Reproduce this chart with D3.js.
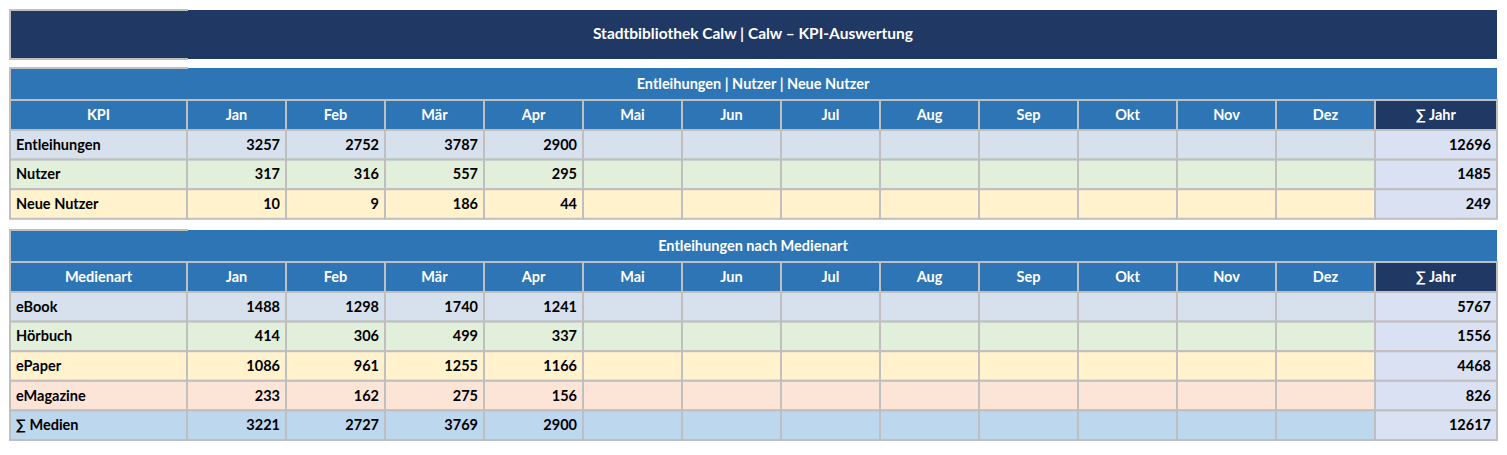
<!DOCTYPE html>
<html><head><meta charset="utf-8">
<script src="https://cdn.jsdelivr.net/npm/d3@7"></script>
<style>body{margin:0;background:#fff}svg{display:block}text{font-family:Lato,"Open Sans",sans-serif;font-weight:bold}</style>
</head><body><svg id="c" width="1507" height="455"></svg>
<script>
const title = "Stadtbibliothek Calw  |  Calw – KPI-Auswertung";
const months = ["Jan","Feb","Mär","Apr","Mai","Jun","Jul","Aug","Sep","Okt","Nov","Dez"];
const section1 = "Entleihungen | Nutzer | Neue Nutzer";
const kpiNames = ["Entleihungen","Nutzer","Neue Nutzer"];
const entleihungen = [3257,2752,3787,2900];
const nutzer = [317,316,557,295];
const neueNutzer = [10,9,186,44];
const kpiTotals = [12696,1485,249];
const section2 = "Entleihungen nach Medienart";
const medienNames = ["eBook","Hörbuch","ePaper","eMagazine","∑ Medien"];
const ebook = [1488,1298,1740,1241];
const hoerbuch = [414,306,499,337];
const epaper = [1086,961,1255,1166];
const emagazine = [233,162,275,156];
const summeMedien = [3221,2727,3769,2900];
const medienTotals = [5767,1556,4468,826,12617];

const svg = d3.select("#c");
const navy="#203864", blue="#2E75B6", grid="#BFBFBF";
const x = d3.scaleOrdinal().domain(["label",...months,"sum"]);
const edges=[10,187]; for(let i=1;i<=12;i++) edges.push(187+i*99.0); edges.push(1497);
const colX = k => edges[k], colW = k => edges[k+1]-edges[k];

svg.append("rect").attr("x",10).attr("y",10).attr("width",1487).attr("height",49).attr("fill",navy);
svg.append("path").attr("d","M188,10H10V59H188").attr("fill","none").attr("stroke",grid).attr("stroke-width",2);
svg.append("text").attr("x",753).attr("y",39).attr("text-anchor","middle").attr("fill","#fff").attr("font-size",15.5).text(title);

function table(top, section, firstHead, names, rows, totals, colors){
  const rowH = [32,30]; 
  svg.append("rect").attr("x",10).attr("y",top).attr("width",1487).attr("height",32).attr("fill",blue);
  svg.append("path").attr("d",`M188,${top}H10V${top+32}`).attr("fill","none").attr("stroke",grid).attr("stroke-width",2);
  svg.append("text").attr("x",753).attr("y",top+21).attr("text-anchor","middle").attr("fill","#fff").attr("font-size",14.5).text(section);
  const hy=top+32, hh=30;
  const heads=[firstHead,...months,"∑ Jahr"];
  heads.forEach((h,k)=>{
    svg.append("rect").attr("x",colX(k)).attr("y",hy).attr("width",colW(k)).attr("height",hh)
      .attr("fill",k===13?navy:blue).attr("stroke",grid).attr("stroke-width",2);
    svg.append("text").attr("x",colX(k)+colW(k)/2).attr("y",hy+20).attr("text-anchor","middle").attr("fill","#fff").attr("font-size",14.5).text(h);
  });
  const y = d3.scaleBand().domain(names).range([hy+hh, hy+hh+names.length*29.6]);
  names.forEach((n,r)=>{
    const yy=y(n), h=y.bandwidth();
    for(let k=0;k<14;k++){
      svg.append("rect").attr("x",colX(k)).attr("y",yy).attr("width",colW(k)).attr("height",h)
        .attr("fill",k===13?"#D9E1F2":colors[r]).attr("stroke",grid).attr("stroke-width",2);
    }
    svg.append("text").attr("x",colX(0)+6).attr("y",yy+h/2+5).attr("fill","#000").attr("font-size",14.5).text(n);
    rows[r].forEach((v,i)=>{
      svg.append("text").attr("x",colX(i+1)+colW(i+1)-6).attr("y",yy+h/2+5).attr("text-anchor","end").attr("font-size",14.5).text(v);
    });
    svg.append("text").attr("x",colX(13)+colW(13)-6).attr("y",yy+h/2+5).attr("text-anchor","end").attr("font-size",14.5).text(totals[r]);
  });
}
table(68, section1, "KPI", kpiNames, [entleihungen,nutzer,neueNutzer], kpiTotals, ["#D6E1ED","#E2EFDA","#FFF2CC"]);
table(230, section2, "Medienart", medienNames, [ebook,hoerbuch,epaper,emagazine,summeMedien], medienTotals, ["#D6E1ED","#E2EFDA","#FFF2CC","#FCE4D6","#BDD7EE"]);
</script></body></html>
